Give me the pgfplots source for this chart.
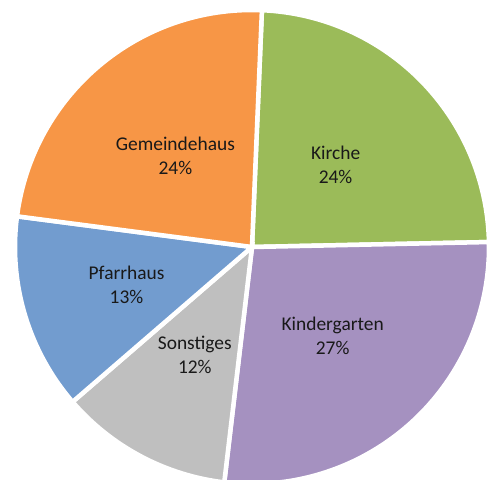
\documentclass[border=0pt]{standalone}
\usepackage{pgfplots}
\pgfplotsset{compat=1.18}
\usepackage{fontspec}
\setmainfont{Carlito}
\definecolor{cKirche}{HTML}{9BBB59}
\definecolor{cKinder}{HTML}{A591C0}
\definecolor{cSonst}{HTML}{BFBFBF}
\definecolor{cPfarr}{HTML}{729CCF}
\definecolor{cGemeinde}{HTML}{F79646}
\begin{document}
\begin{tikzpicture}
\path[use as bounding box] (0,0) rectangle (490bp,480bp);
\begin{axis}[
  at={(0,0)}, anchor=south west,
  width=490bp, height=480bp, scale only axis,
  xmin=0, xmax=490, ymin=0, ymax=480,
  hide axis,
]
\xdef\startang{87.6}
% share (percent) / colour / name / shown label / label radius
\foreach \val/\col/\name/\lab/\lr in {
  24.0/cKirche/Kirche/24/117,
  27.2/cKinder/Kindergarten/27/120,
  11.8/cSonst/Sonstiges/12/122,
  13.4/cPfarr/Pfarrhaus/13/131,
  23.6/cGemeinde/Gemeindehaus/24/119}{
  \pgfmathsetmacro{\endang}{\startang - 3.6*\val}
  \pgfmathsetmacro{\midang}{(\startang+\endang)/2}
  \pgfmathsetmacro{\sx}{252+237*cos(\startang)}
  \pgfmathsetmacro{\sy}{233+237*sin(\startang)}
  \pgfmathsetmacro{\lx}{252+\lr*cos(\midang)}
  \pgfmathsetmacro{\ly}{233+\lr*sin(\midang)}
  \edef\temp{\noexpand\filldraw[fill=\col, draw=white, line width=4.5bp, line join=miter]
    (axis cs:252,233) -- (axis cs:\sx,\sy)
    arc[start angle=\startang, end angle=\endang, radius=237bp] -- cycle;
    \noexpand\node[align=center, font=\noexpand\fontsize{19.5}{24}\noexpand\selectfont, text=black!90]
    at (axis cs:\lx,\ly) {\name\noexpand\\\lab\noexpand\%};}
  \temp
  \xdef\startang{\endang}
}
\end{axis}
\end{tikzpicture}
\end{document}
